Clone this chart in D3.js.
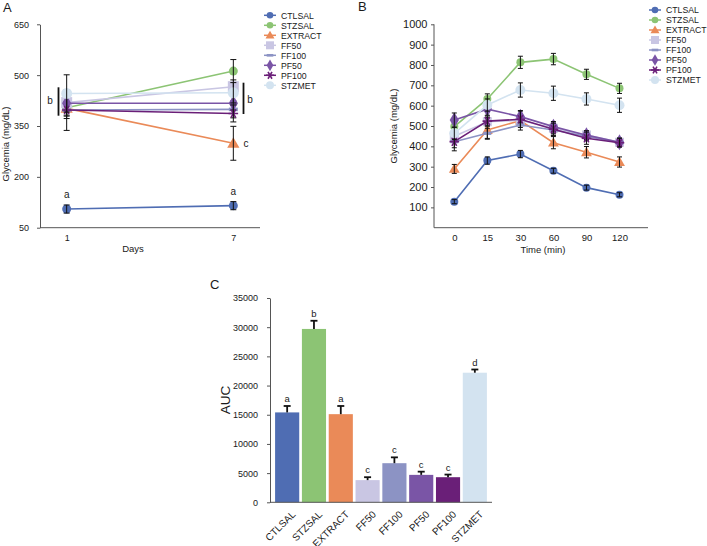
<!DOCTYPE html>
<html><head><meta charset="utf-8">
<script src="https://cdn.jsdelivr.net/npm/d3@7"></script>
<style>
body{margin:0;background:#fff}
text{font-family:"Liberation Sans",Arial,Helvetica,sans-serif;fill:#1a1a1a}
</style>
</head><body>
<svg id="chart" width="707" height="546"></svg>
<script>
// ---------- data ----------
const groups = ["CTLSAL","STZSAL","EXTRACT","FF50","FF100","PF50","PF100","STZMET"];
const colors = ["#4f6db3","#8cc474","#ea8a58","#c9c6e3","#8c93c4","#7a55a6","#6a1f78","#d3e3f0"];
const markerTypes = ["circle","circle","triangle","square","dash","diamond","asterisk","circle"];

// Panel A (days)
const dayLabels = ["1","7"];
const dayOneMean  = [105, 404, 402, 419, 397, 417, 397, 446];
const dayOneErr   = [12, 25, 20, 25, 25, 20, 60, 55];
const daySevenMean = [115, 512, 299, 466, 399, 417, 387, 448];
const daySevenErr  = [12, 34, 50, 20, 25, 20, 25, 30];
const yTicksA = [50, 200, 350, 500, 650];

// Panel B (OGTT, time in min)
const timeLabels = ["0","15","30","60","90","120"];
const ogttCTLSAL  = [128, 330, 362, 280, 197, 162];
const ogttSTZSAL  = [497, 633, 813, 829, 754, 685];
const ogttEXTRACT = [289, 480, 527, 418, 371, 323];
const ogttFF50    = [450, 521, 528, 489, 456, 420];
const ogttFF100   = [423, 464, 505, 480, 450, 418];
const ogttPF50    = [529, 583, 546, 497, 455, 420];
const ogttPF100   = [423, 524, 533, 484, 440, 418];
const ogttSTZMET  = [464, 603, 677, 661, 633, 602];
const errCTLSAL  = [10, 18, 18, 12, 12, 10];
const errSTZSAL  = [25, 25, 30, 28, 25, 25];
const errEXTRACT = [22, 45, 25, 30, 28, 25];
const errFF50    = [25, 20, 25, 25, 20, 20];
const errFF100   = [30, 25, 25, 25, 20, 20];
const errPF50    = [35, 30, 30, 25, 22, 20];
const errPF100   = [45, 25, 40, 30, 30, 22];
const errSTZMET  = [30, 30, 35, 35, 30, 35];
const yTicksB = [100,200,300,400,500,600,700,800,900,1000];

// Panel C (AUC)
const aucMean = [15400, 29700, 15100, 3800, 6700, 4700, 4300, 22200];
const aucErr  = [1100, 1400, 1400, 500, 1000, 550, 450, 550];
const aucLetters = ["a","b","a","c","c","c","c","d"];
const yTicksC = [0,5000,10000,15000,20000,25000,30000,35000];

const ogttMeans = [ogttCTLSAL, ogttSTZSAL, ogttEXTRACT, ogttFF50, ogttFF100, ogttPF50, ogttPF100, ogttSTZMET];
const ogttErrs  = [errCTLSAL, errSTZSAL, errEXTRACT, errFF50, errFF100, errPF50, errPF100, errSTZMET];

// ---------- helpers ----------
const svg = d3.select("#chart");
const AX = "#555";
const FONT = "Liberation Sans, Arial, Helvetica, sans-serif";
const fmt = d3.format("d");

function marker(g, type, x, y, color, s) {
  if (type === "circle") {
    g.append("circle").attr("cx", x).attr("cy", y).attr("r", s).attr("fill", color);
  } else if (type === "triangle") {
    g.append("path").attr("transform", `translate(${x},${y + s*0.2})`)
      .attr("d", d3.symbol(d3.symbolTriangle, s*s*3.2)()).attr("fill", color);
  } else if (type === "square") {
    g.append("rect").attr("x", x - s).attr("y", y - s).attr("width", 2*s).attr("height", 2*s).attr("fill", color);
  } else if (type === "diamond") {
    g.append("path").attr("transform", `translate(${x},${y})`)
      .attr("d", d3.symbol(d3.symbolDiamond, s*s*3.6)()).attr("fill", color);
  } else if (type === "dash") {
    g.append("rect").attr("x", x - s).attr("y", y - s*0.4).attr("width", 2*s).attr("height", s*0.8).attr("fill", color);
  } else if (type === "asterisk") {
    g.append("path").attr("transform", `translate(${x},${y}) rotate(30)`)
      .attr("d", d3.symbol(d3.symbolAsterisk, s*s*4)()).attr("fill", "none")
      .attr("stroke", color).attr("stroke-width", 1.6);
  }
}

function errBar(g, x, y1, y2, w, sw) {
  g.append("line").attr("x1", x).attr("x2", x).attr("y1", y1).attr("y2", y2).attr("stroke", "#111").attr("stroke-width", sw);
  g.append("line").attr("x1", x - w).attr("x2", x + w).attr("y1", y1).attr("y2", y1).attr("stroke", "#111").attr("stroke-width", sw);
  g.append("line").attr("x1", x - w).attr("x2", x + w).attr("y1", y2).attr("y2", y2).attr("stroke", "#111").attr("stroke-width", sw);
}

function legend(x, y0, step) {
  const g = svg.append("g");
  groups.forEach((name, i) => {
    const y = y0 + i*step;
    g.append("line").attr("x1", x - 6).attr("x2", x + 6).attr("y1", y).attr("y2", y)
      .attr("stroke", colors[i]).attr("stroke-width", 1.5);
    const s = markerTypes[i] === "square" ? 4 : (markerTypes[i] === "circle" && i === 7) ? 4 : 3.3;
    marker(g, markerTypes[i], x, y, colors[i], s);
    g.append("text").attr("x", x + 11).attr("y", y + 3.2).attr("font-size", 8.7).text(name);
  });
}

function panelLabel(t, x, y) {
  svg.append("text").attr("x", x).attr("y", y).attr("font-size", 13).text(t);
}

function styleTicks(sel, size) {
  sel.selectAll(".tick line").attr("stroke", AX);
  sel.selectAll("text").attr("font-size", size).attr("font-family", FONT).attr("fill", "#1a1a1a");
}

// ---------- Panel A ----------
{
  const xA = d3.scalePoint().domain(dayLabels).range([40, 260]).padding(0.16);
  const yA = d3.scaleLinear().domain([50, 650]).range([227.7, 24.3]);
  const g = svg.append("g");

  const ya = g.append("g").attr("transform", "translate(40,0)")
    .call(d3.axisLeft(yA).tickValues(yTicksA).tickFormat(fmt).tickSize(3).tickPadding(8).tickSizeOuter(0));
  ya.select(".domain").attr("stroke", AX);
  styleTicks(ya, 9);

  const xa = g.append("g").attr("transform", "translate(0,227.7)")
    .call(d3.axisBottom(xA).tickSize(0).tickPadding(6.5));
  xa.select(".domain").remove();
  styleTicks(xa, 9);
  g.append("line").attr("x1", 40).attr("x2", 260).attr("y1", 227.7).attr("y2", 227.7).attr("stroke", AX);

  g.append("text").attr("x", 133).attr("y", 251.5).attr("text-anchor", "middle").attr("font-size", 9.5).text("Days");
  g.append("text").attr("transform", "translate(9,144) rotate(-90)").attr("text-anchor", "middle")
    .attr("font-size", 9.5).text("Glycemia (mg/dL)");

  groups.forEach((name, i) => {
    const vals = [dayOneMean[i], daySevenMean[i]];
    const errs = [dayOneErr[i], daySevenErr[i]];
    const pts = dayLabels.map((d, j) => [xA(d), yA(vals[j])]);
    g.append("path").attr("d", d3.line()(pts)).attr("fill", "none")
      .attr("stroke", colors[i]).attr("stroke-width", 1.6);
    const s = markerTypes[i] === "square" ? 5.5 : i === 7 ? 5.5 : markerTypes[i] === "asterisk" ? 4 : 4.5;
    pts.forEach(p => marker(g, markerTypes[i], p[0], p[1], colors[i], s));
    dayLabels.forEach((d, j) => errBar(g, xA(d), yA(vals[j] + errs[j]), yA(vals[j] - errs[j]), 3, 1));
  });

  // significance letters
  dayLabels.forEach((d, j) => {
    g.append("text").attr("x", xA(d)).attr("y", yA((j ? daySevenMean[0] : dayOneMean[0]) + 32))
      .attr("text-anchor", "middle").attr("font-size", 10).text("a");
  });
  g.append("line").attr("x1", 58.5).attr("x2", 58.5).attr("y1", 87.3).attr("y2", 115.7).attr("stroke", "#111").attr("stroke-width", 1.8);
  g.append("text").attr("x", 50).attr("y", 103.5).attr("text-anchor", "middle").attr("font-size", 10).text("b");
  g.append("line").attr("x1", 243.5).attr("x2", 243.5).attr("y1", 82.7).attr("y2", 114).attr("stroke", "#111").attr("stroke-width", 1.8);
  g.append("text").attr("x", 250).attr("y", 102.5).attr("text-anchor", "middle").attr("font-size", 10).text("b");
  g.append("text").attr("x", 246).attr("y", yA(daySevenMean[2]) + 3.5).attr("text-anchor", "middle").attr("font-size", 10).text("c");

  legend(270, 15.3, 10);
  panelLabel("A", 3, 12);
}

// ---------- Panel B ----------
{
  const xB = d3.scalePoint().domain(timeLabels).range([454.3, 619.5]);
  const yB = d3.scaleLinear().domain([0, 1000]).range([227.7, 24.3]);
  const g = svg.append("g");

  const yb = g.append("g").attr("transform", "translate(434,0)")
    .call(d3.axisLeft(yB).tickValues(yTicksB).tickFormat(fmt).tickSize(3).tickPadding(3.5).tickSizeOuter(0));
  yb.select(".domain").remove();
  g.append("line").attr("x1", 434).attr("x2", 434).attr("y1", 24.3).attr("y2", 227.7).attr("stroke", AX);
  styleTicks(yb, 11);

  const xb = g.append("g").attr("transform", "translate(0,227.7)")
    .call(d3.axisBottom(xB).tickSize(0).tickPadding(7));
  xb.select(".domain").remove();
  styleTicks(xb, 9.5);
  g.append("line").attr("x1", 434).attr("x2", 648).attr("y1", 227.7).attr("y2", 227.7).attr("stroke", AX);

  g.append("text").attr("x", 543).attr("y", 253).attr("text-anchor", "middle").attr("font-size", 9.5).text("Time (min)");
  g.append("text").attr("transform", "translate(396.5,126) rotate(-90)").attr("text-anchor", "middle")
    .attr("font-size", 9.5).text("Glycemia (mg/dL)");

  groups.forEach((name, i) => {
    const vals = ogttMeans[i], errs = ogttErrs[i];
    const pts = timeLabels.map((t, j) => [xB(t), yB(vals[j])]);
    g.append("path").attr("d", d3.line()(pts)).attr("fill", "none")
      .attr("stroke", colors[i]).attr("stroke-width", 1.6);
    const s = markerTypes[i] === "square" ? 4.5 : i === 7 ? 5 : markerTypes[i] === "diamond" ? 4.5 : 4;
    pts.forEach(p => marker(g, markerTypes[i], p[0], p[1], colors[i], s));
    timeLabels.forEach((t, j) => errBar(g, xB(t), yB(vals[j] + errs[j]), yB(vals[j] - errs[j]), 2.5, 1));
  });

  legend(655, 10, 10);
  panelLabel("B", 358, 11);
}

// ---------- Panel C ----------
{
  const xC = d3.scaleBand().domain(groups).range([270, 492]).paddingInner(0.1).paddingOuter(0.19);
  const yC = d3.scaleLinear().domain([0, 35000]).range([502.3, 298]);
  const g = svg.append("g");

  const yc = g.append("g").attr("transform", "translate(270,0)")
    .call(d3.axisLeft(yC).tickValues(yTicksC).tickFormat(fmt).tickSize(3).tickPadding(9).tickSizeOuter(0));
  yc.select(".domain").attr("stroke", AX);
  styleTicks(yc, 9);

  g.append("text").attr("transform", "translate(230,400) rotate(-90)").attr("text-anchor", "middle")
    .attr("font-size", 13.5).text("AUC");

  g.selectAll("rect.bar").data(groups).enter().append("rect").attr("class", "bar")
    .attr("x", d => xC(d)).attr("width", xC.bandwidth())
    .attr("y", (d, i) => yC(aucMean[i])).attr("height", (d, i) => yC(0) - yC(aucMean[i]))
    .attr("fill", (d, i) => colors[i]);

  groups.forEach((d, i) => {
    const cx = xC(d) + xC.bandwidth()/2;
    const yTop = yC(aucMean[i] + aucErr[i]);
    g.append("line").attr("x1", cx).attr("x2", cx).attr("y1", yC(aucMean[i])).attr("y2", yTop).attr("stroke", "#111").attr("stroke-width", 1.8);
    g.append("line").attr("x1", cx - 3.5).attr("x2", cx + 3.5).attr("y1", yTop).attr("y2", yTop).attr("stroke", "#111").attr("stroke-width", 1.8);
    g.append("text").attr("x", cx).attr("y", yTop - 4).attr("text-anchor", "middle").attr("font-size", 9.5).text(aucLetters[i]);
    const lx = cx + 9, ly = 515;
    g.append("text").attr("x", lx).attr("y", ly)
      .attr("transform", `rotate(-45 ${lx} ${ly})`).attr("text-anchor", "end")
      .attr("font-size", 10).text(d);
  });

  g.append("line").attr("x1", 270).attr("x2", 492).attr("y1", 502.3).attr("y2", 502.3).attr("stroke", AX);
  panelLabel("C", 210, 289);
}
</script>
</body></html>
